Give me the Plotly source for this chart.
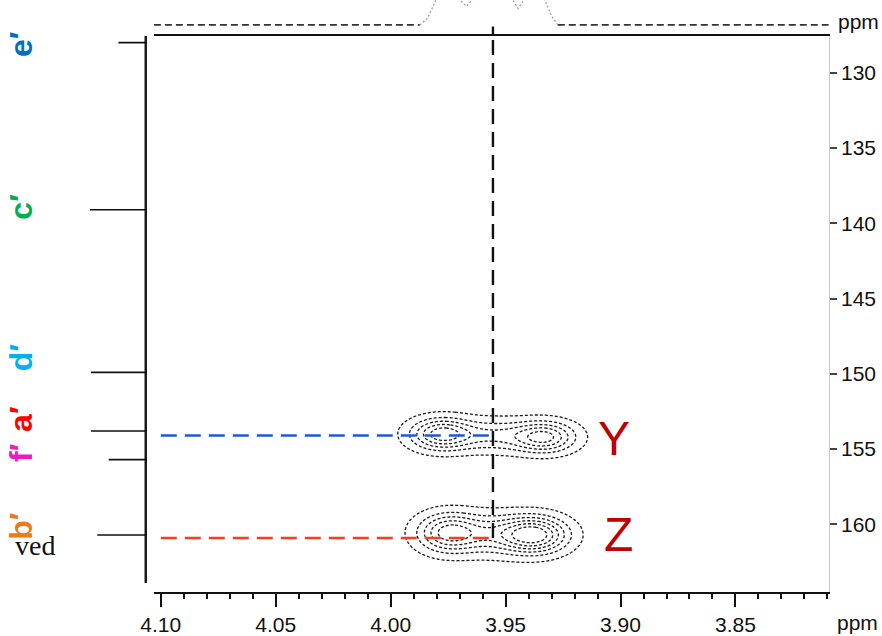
import numpy as np
import plotly.graph_objects as go

# ---------------- data ----------------
# 13C projection (left): peak positions (ppm) and relative intensities
carbon_labels = ["e′", "c′", "d′", "a′", "f′", "b′"]
carbon_ppm = [128.0, 139.1, 149.9, 153.8, 155.7, 160.7]
carbon_intensity = [0.50, 1.00, 0.98, 0.98, 0.67, 0.87]
carbon_label_ppm = [128.1, 138.9, 148.9, 153.0, 155.2, 160.1]
carbon_label_colors = ["#0070C0", "#00B050", "#00B0F0", "#FF0000", "#E61EBE", "#E87B1C"]

# 1H projection (top): points of the (clipped) peak envelope
proton_ppm = [3.9873, 3.984, 3.980, 3.975, 3.970, 3.967, 3.964, 3.960, 3.950, 3.947,
              3.9445, 3.942, 3.938, 3.933, 3.930, 3.9273]
proton_int = [0.0, 0.6, 2.4, 3.5, 2.3, 1.7, 2.4, 3.5, 3.5, 2.3,
              1.5, 2.3, 3.5, 2.3, 0.8, 0.0]
proton_base_left = [4.103, 3.9873]
proton_base_right = [3.9273, 3.8094]

# 2D cross peaks: three components each for Y and Z
xpk_h = [3.978, 3.955, 3.933, 3.975, 3.955, 3.937]
xpk_c = [154.0, 154.1, 154.2, 160.55, 160.65, 160.7]
xpk_amp = [0.90, 0.45, 0.85, 0.85, 0.50, 1.05]
xpk_wh = [0.0090, 0.0120, 0.0090, 0.0090, 0.0120, 0.0095]
xpk_wc = [0.70, 0.72, 0.68, 0.85, 0.90, 0.80]
contour_levels = [0.1, 0.28, 0.46, 0.64, 0.82, 1.0]

peak_names = ["Y", "Z"]
peak_label_h = [3.903, 3.901]
peak_label_c = [154.3, 160.7]

# correlation guide lines
h_ref = 3.9555
c_Y = 154.1
c_Z = 160.9

x_ticks = [4.10, 4.05, 4.00, 3.95, 3.90, 3.85]
x_ticktext = ["4.10", "4.05", "4.00", "3.95", "3.90", "3.85"]
y_ticks = [130, 135, 140, 145, 150, 155, 160]
y_ticktext = ["130", "135", "140", "145", "150", "155", "160"]

x_range = [4.103, 3.8094]
y_range = [164.5, 127.55]

# ---------------- build figure ----------------
W, H = 882, 636
fig = go.Figure()

gh = np.linspace(3.90, 4.01, 221)
gc = np.linspace(150.0, 165.0, 301)
GH, GC = np.meshgrid(gh, gc)
Z = np.zeros_like(GH)
for h0, c0, a, wh, wc in zip(xpk_h, xpk_c, xpk_amp, xpk_wh, xpk_wc):
    Z += a * np.exp(-((GH - h0) ** 2) / (2 * wh ** 2) - ((GC - c0) ** 2) / (2 * wc ** 2))

fig.add_trace(go.Contour(
    x=gh, y=gc, z=Z, xaxis="x", yaxis="y",
    contours=dict(coloring="none", start=contour_levels[0], end=contour_levels[-1],
                  size=contour_levels[1] - contour_levels[0], showlabels=False),
    line=dict(color="#1a1a1a", width=1.3, dash="3px,2px"),
    showscale=False, hoverinfo="skip"))

# guide lines
fig.add_trace(go.Scatter(x=[x_ticks[0], h_ref], y=[c_Y, c_Y], mode="lines",
                         line=dict(color="#1D5BD8", width=2.4, dash="16px,8px"),
                         xaxis="x", yaxis="y"))
fig.add_trace(go.Scatter(x=[x_ticks[0], h_ref], y=[c_Z, c_Z], mode="lines",
                         line=dict(color="#FF3B1F", width=2.4, dash="16px,8px"),
                         xaxis="x", yaxis="y"))
fig.add_trace(go.Scatter(x=[h_ref, h_ref], y=[c_Z, y_range[1]], mode="lines",
                         line=dict(color="#111111", width=2.4, dash="15px,8px"),
                         xaxis="x", yaxis="y"))

# left 13C projection: baseline + peaks
fig.add_trace(go.Scatter(x=[0, 0], y=[y_range[1], y_range[0] - 0.6], mode="lines",
                         line=dict(color="#1a1a1a", width=5), xaxis="x2", yaxis="y"))
px_, py_ = [], []
for ppm, inten in zip(carbon_ppm, carbon_intensity):
    px_ += [0, inten, None]
    py_ += [ppm, ppm, None]
fig.add_trace(go.Scatter(x=px_, y=py_, mode="lines",
                         line=dict(color="#111111", width=1.6), xaxis="x2", yaxis="y"))

# top 1H projection
fig.add_trace(go.Scatter(x=proton_base_left, y=[0, 0], mode="lines",
                         line=dict(color="#333333", width=1.6, dash="7px,4px"),
                         xaxis="x", yaxis="y3"))
fig.add_trace(go.Scatter(x=proton_base_right, y=[0, 0], mode="lines",
                         line=dict(color="#333333", width=1.6, dash="7px,4px"),
                         xaxis="x", yaxis="y3"))
fig.add_trace(go.Scatter(x=proton_ppm, y=proton_int, mode="lines",
                         line=dict(color="#9a9a9a", width=1.2, dash="2px,2px"),
                         xaxis="x", yaxis="y3"))
fig.add_trace(go.Scatter(x=[h_ref, h_ref], y=[-1.0, -0.15], mode="lines",
                         line=dict(color="#111111", width=2.4),
                         xaxis="x", yaxis="y3"))

tick_font = dict(family="Liberation Sans Narrow, Liberation Sans, Arial", size=21, color="#111111")

fig.update_layout(
    width=W, height=H, margin=dict(l=0, r=0, t=0, b=0),
    paper_bgcolor="white", plot_bgcolor="white", showlegend=False,
    xaxis=dict(domain=[143 / W, 828 / W], range=x_range, anchor="y",
               tickmode="array", tickvals=x_ticks, ticktext=x_ticktext,
               ticks="outside", ticklen=13, tickwidth=1.5, tickcolor="#111111",
               minor=dict(ticks="outside", dtick=0.01, tick0=3.85, ticklen=5,
                          tickwidth=1.5, tickcolor="#111111"),
               showline=True, linewidth=2, linecolor="#111111", mirror=True,
               showgrid=False, zeroline=False, tickfont=tick_font),
    yaxis=dict(domain=[1 - 594 / H, 1 - 36 / H], range=y_range, anchor="x", side="right",
               tickmode="array", tickvals=y_ticks, ticktext=y_ticktext,
               ticks="outside", ticklen=7, tickwidth=1.5, tickcolor="#444444",
               showline=True, linewidth=1, linecolor="#c8c8c8",
               showgrid=False, zeroline=False, tickfont=tick_font),
    xaxis2=dict(domain=[78 / W, 136 / W], range=[1, 0], anchor="y", visible=False,
                showgrid=False, zeroline=False),
    yaxis3=dict(domain=[1 - 36 / H, 1], range=[-1, 2.27], anchor="x", visible=False,
                showgrid=False, zeroline=False),
)

ann = []
# rotated labels: plotly offsets rotated text to the right, so the anchor sits left of the visual centre
for lab, yy, col in zip(carbon_labels, carbon_label_ppm, carbon_label_colors):
    ann.append(dict(text="<b>" + lab + "</b>", x=8 / W, xref="paper", y=yy, yref="y",
                    showarrow=False, textangle=-90, xanchor="center", yanchor="middle",
                    font=dict(family="Liberation Sans, Arial", size=32, color=col)))
for name, hx, cy in zip(peak_names, peak_label_h, peak_label_c):
    ann.append(dict(text=name, x=hx, xref="x", y=cy, yref="y", showarrow=False,
                    xanchor="center", yanchor="middle",
                    font=dict(family="Liberation Sans, Arial", size=48, color="#C00000")))
ann.append(dict(text="ppm", x=858 / W, y=1 - 22 / H, xref="paper", yref="paper",
                showarrow=False, font=tick_font, xanchor="center", yanchor="middle"))
ann.append(dict(text="ppm", x=857 / W, y=1 - 624 / H, xref="paper", yref="paper",
                showarrow=False, font=tick_font, xanchor="center", yanchor="middle"))
ann.append(dict(text="ved", x=0, y=1 - 547 / H, xref="paper", yref="paper",
                showarrow=False, xanchor="left", yanchor="middle",
                font=dict(family="Liberation Serif, DejaVu Serif", size=28, color="#111111")))
fig.update_layout(annotations=ann)

fig.write_html("out.html", config={"displayModeBar": False},
               post_script="document.body.style.margin='0';document.body.style.overflow='hidden';")
